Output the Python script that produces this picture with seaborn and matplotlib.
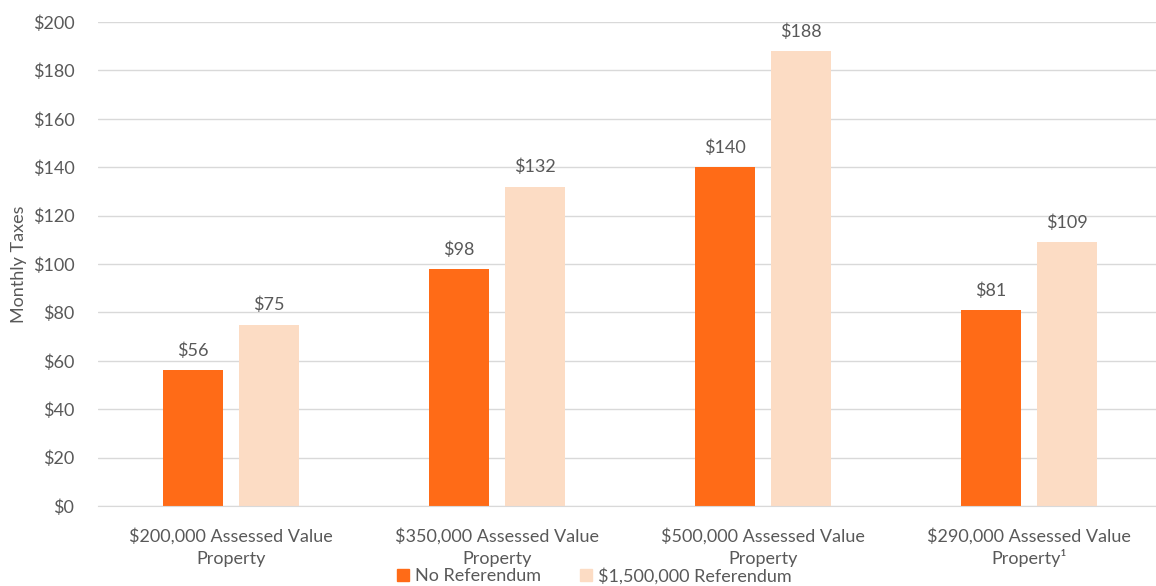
import pandas as pd
import numpy as np
import seaborn as sns
import matplotlib.pyplot as plt
from matplotlib.ticker import FuncFormatter

categories = ['$200,000 Assessed Value\nProperty', '$350,000 Assessed Value\nProperty',
              '$500,000 Assessed Value\nProperty', '$290,000 Assessed Value\nProperty\u00b9']
series = ['No Referendum', '$1,500,000 Referendum']
no_ref = [56, 98, 140, 81]
with_ref = [75, 132, 188, 109]

df = pd.DataFrame({
    'category': categories * 2,
    'scenario': [series[0]] * 4 + [series[1]] * 4,
    'taxes': no_ref + with_ref,
})

sns.set_style('white')
plt.rcParams['font.family'] = ['Lato', 'DejaVu Sans']
grey = '#595959'
colors = ['#FF6B17', '#FCDCC4']

fig = plt.figure(figsize=(11.56, 5.86), dpi=100)
ax = fig.add_axes([98 / 1156, 80 / 586, 1064 / 1156, 484 / 586])

sns.barplot(data=df, x='category', y='taxes', hue='scenario', palette=colors,
            width=0.571, gap=0.21, ax=ax, legend=False, saturation=1, linewidth=0)

for cont in ax.containers:
    ax.bar_label(cont, labels=['${:.0f}'.format(v) for v in cont.datavalues],
                 padding=8, fontsize=13, color=grey)

ax.set_ylim(0, 200)
ax.set_xlim(-0.5, 3.5)
ax.set_yticks(np.arange(0, 201, 20))
ax.yaxis.set_major_formatter(FuncFormatter(lambda v, p: '${:.0f}'.format(v)))
ax.yaxis.grid(True, color='#D9D9D9', lw=1)
ax.set_axisbelow(True)
for s in ['top', 'right', 'left']:
    ax.spines[s].set_visible(False)
ax.spines['bottom'].set_color('#D9D9D9')
ax.tick_params(axis='both', length=0, labelsize=13, colors=grey)
ax.tick_params(axis='y', pad=17)
ax.tick_params(axis='x', pad=16)
xlabels = ax.get_xticklabels()
for lbl in xlabels:
    lbl.set_linespacing(1.45)
# the superscript line is taller, so tighten it to keep baselines level
xlabels[-1].set_linespacing(1.24)
ax.set_xlabel('')
ax.set_ylabel('Monthly Taxes', fontsize=13, color=grey)
ax.yaxis.set_label_coords(-0.067, 0.5)

handles = [plt.Line2D([], [], marker='s', ls='', color=c, markersize=9) for c in colors]
fig.legend(handles, series, loc='lower center', bbox_to_anchor=(0.509, -0.025), ncol=2,
           frameon=False, fontsize=13, labelcolor=grey, handletextpad=-0.35, columnspacing=1.5)

fig.savefig('out.png', dpi=100)
